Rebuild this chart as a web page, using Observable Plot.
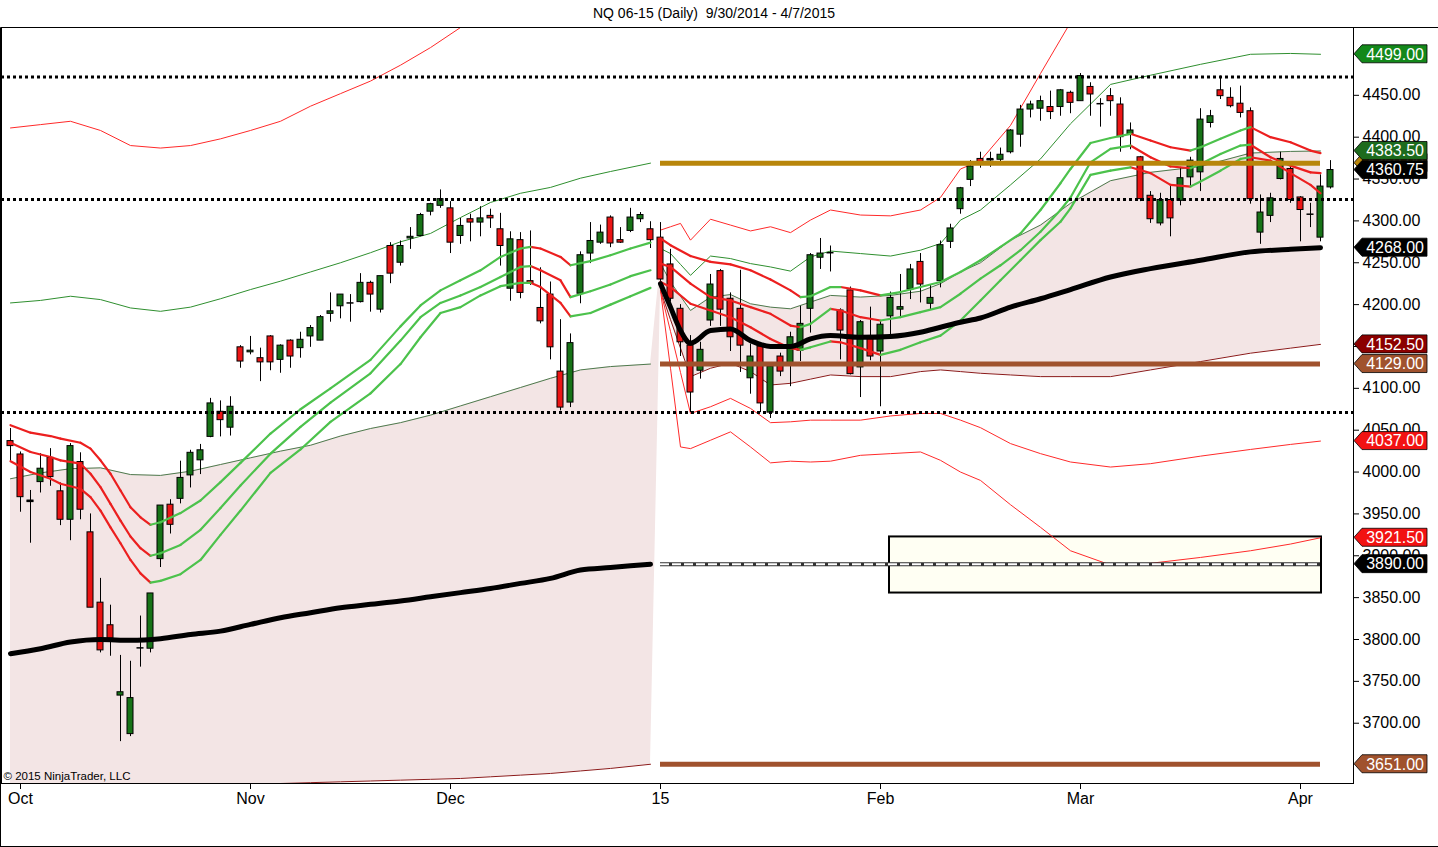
<!DOCTYPE html>
<html><head><meta charset="utf-8">
<script src="https://cdn.jsdelivr.net/npm/d3@7"></script>
<script src="https://cdn.jsdelivr.net/npm/@observablehq/plot@0.6"></script>
<style>
body{margin:0;background:#fff;font-family:"Liberation Sans",Arial,sans-serif;}
#title{height:27px;line-height:27px;text-align:center;font-size:14px;color:#000;width:1438px;padding-right:10px;box-sizing:border-box;white-space:pre}
#chart svg{display:block}
</style></head><body>
<div id="title">NQ 06-15 (Daily)  9/30/2014 - 4/7/2015</div>
<div id="chart"></div>
<script>
// ---------- price bars (bar index 0 = 9/30/2014) ----------
const opens  = [4037,4021,3966,3988,4017,3977,3943,4012,3928,3844,3817,3733,3687,3790,3789,3896,3961,3968,3996,4014,4042,4072,4053,4149,4143,4136,4162,4134,4157,4148,4162,4157,4189,4198,4202,4203,4226,4194,4270,4250,4279,4282,4311,4318,4315,4282,4302,4298,4306,4290,4219,4277,4228,4196,4212,4120,4083,4213,4261,4274,4304,4277,4288,4302,4290,4280,4248,4195,4151,4121,4181,4240,4207,4195,4112,4150,4071,4138,4129,4145,4195,4256,4262,4193,4217,4125,4159,4144,4186,4194,4218,4251,4201,4228,4275,4314,4349,4374,4374,4373,4382,4403,4433,4434,4436,4436,4453,4443,4460,4440,4449,4439,4403,4376,4330,4297,4325,4324,4352,4358,4417,4456,4447,4440,4431,4286,4306,4350,4362,4328,4308,4280,4340];
const highs  = [4052,4024,3978,4022,4028,3987,4034,4023,3950,3873,3841,3781,3774,3828,3855,3960,3967,4013,4026,4033,4088,4085,4090,4151,4162,4148,4163,4152,4158,4167,4175,4187,4214,4212,4212,4237,4228,4234,4274,4276,4292,4309,4321,4337,4323,4303,4308,4317,4314,4309,4287,4286,4288,4244,4227,4182,4165,4263,4298,4295,4306,4292,4315,4310,4299,4298,4266,4200,4163,4155,4236,4242,4214,4241,4153,4154,4130,4142,4167,4198,4261,4279,4270,4195,4221,4181,4197,4181,4215,4236,4248,4261,4224,4276,4296,4340,4372,4382,4382,4387,4409,4438,4443,4449,4455,4457,4455,4476,4465,4446,4458,4447,4417,4377,4335,4333,4341,4364,4376,4434,4432,4473,4459,4461,4435,4331,4333,4382,4370,4329,4321,4355,4372];
const lows   = [4012,3952,3915,3975,3983,3936,3918,3943,3838,3784,3780,3678,3684,3767,3784,3886,3926,3962,3981,3997,4041,4042,4043,4124,4140,4108,4121,4118,4124,4136,4149,4157,4179,4183,4179,4202,4191,4190,4225,4246,4266,4281,4306,4315,4261,4272,4275,4281,4291,4246,4204,4207,4223,4177,4134,4073,4077,4201,4249,4272,4268,4273,4286,4298,4267,4225,4203,4138,4071,4111,4174,4174,4144,4119,4093,4071,4064,4114,4102,4132,4166,4242,4239,4134,4116,4089,4133,4078,4159,4184,4206,4202,4194,4220,4267,4308,4341,4363,4364,4370,4380,4388,4423,4419,4421,4425,4428,4443,4425,4412,4425,4382,4385,4323,4297,4294,4281,4318,4341,4335,4411,4445,4435,4423,4320,4272,4298,4349,4321,4275,4292,4275,4338];
const closes = [4031,3970,3965,4004,3994,3943,4031,3955,3838,3787,3801,3737,3730,3790,3855,3960,3937,3993,4023,4026,4082,4062,4078,4132,4145,4131,4131,4151,4138,4158,4172,4185,4192,4212,4202,4226,4212,4234,4237,4270,4281,4307,4320,4326,4274,4294,4298,4303,4303,4270,4278,4214,4225,4180,4149,4077,4154,4259,4276,4286,4273,4274,4304,4307,4277,4230,4207,4155,4095,4146,4224,4194,4161,4151,4138,4082,4126,4120,4161,4177,4259,4261,4262,4169,4117,4179,4138,4176,4208,4197,4242,4224,4208,4271,4291,4339,4365,4368,4373,4379,4408,4433,4439,4443,4430,4456,4441,4473,4451,4440,4443,4400,4408,4326,4302,4325,4303,4351,4372,4421,4425,4449,4437,4429,4326,4310,4327,4374,4325,4313,4308,4341,4360.75];

// ---------- x axis ----------
const monthBars   = [1, 24, 44, 65, 87, 107, 129];
const monthLabels = ["Oct","Nov","Dec","15","Feb","Mar","Apr"];
const priceTicks  = [3700,3750,3800,3850,3900,3950,4000,4050,4100,4150,4200,4250,4300,4350,4400,4450];

// ---------- band indicator, first series (bars 0-64) ----------
const seg1Idx    = [0,3,6,9,12,15,18,21,24,27,30,33,36,39,42,45,48,51,54,57,60,64];
const seg1Mid    = [3783,3789,3797,3800,3799,3801,3806,3810,3818,3826,3832,3838,3842,3846,3851,3856,3861,3867,3873,3883,3886,3890];
const seg1Upper1 = [3992,3999,4004,4005,3997,3996,4001,4009,4017,4025,4032,4043,4052,4059,4068,4079,4090,4101,4112,4122,4126,4129];
const seg1Upper2 = [4202,4205,4210,4206,4196,4192,4197,4207,4218,4228,4239,4250,4262,4275,4285,4304,4322,4333,4340,4351,4359,4369];
const seg1Upper3 = [4411,4415,4419,4408,4390,4387,4390,4398,4408,4419,4437,4452,4467,4486,4507,4531,4550,null,null,null,null,null];
const seg1Lower1 = [3575,3579,3590,3595,3601,3606,3611,3615,3626,3628,3629,3630,3631,3632,3633,3634,3636,3638,3640,3643,3646,3651];

// ---------- band indicator, second series (bars 65-131) ----------
const seg2Idx    = [65,66,67,68,70,72,74,76,78,80,82,85,88,91,93,95,97,100,103,106,110,114,119,124,128,131];
const seg2Mid    = [4225,4197,4169,4154,4169,4171,4157,4150,4150,4159,4163,4161,4162,4167,4173,4179,4184,4197,4207,4218,4233,4243,4253,4263,4266,4268];
const seg2Upper1 = [4249,4227,4210,4193,4209,4212,4201,4197,4195,4203,4211,4209,4211,4216,4225,4239,4250,4277,4295,4321,4348,4358,4365,4381,4383,4383.5];
const seg2Upper2 = [4267,4261,4248,4235,4258,4255,4249,4245,4240,4257,4264,4261,4258,4265,4273,4301,4313,4343,4374,4416,4463,4474,4487,4499,4500,4499];
const seg2Upper3 = [4289,4293,4297,4277,4302,4295,4288,4293,4286,4301,4313,4307,4306,4313,4328,4362,4372,4414,4476,4537,null,null,null,null,null,null];
const seg2Lower1 = [4217,4182,4148,4114,4124,4130,4120,4104,4106,4111,4116,4114,4114,4120,4122,4120,4118,4116,4114,4114,4114,4122,4132,4142,4148,4152.5];
const seg2Lower2 = [4217,4168,4119,4070,4078,4088,4076,4059,4060,4062,4062,4062,4067,4070,4070,4062,4053,4034,4022,4012,4006,4010,4019,4027,4033,4037];
const seg2Lower3 = [4217,4124,4030,4028,4038,4048,4030,4011,4013,4012,4013,4020,4022,4024,4014,4000,3990,3961,3934,3906,3889,3891,3898,3906,3914,3921.5];

// ---------- moving-average ribbon ----------
const rib1Idx  = [0,2,4,5,7,8,9,10,11,12,13,14,15,17,19,21,23,26,29,32,36,39,41,43,45,47,49,51,52,53,55,56,58,60,62,64];
const rib1Top  = [4056,4047,4043,4040,4035,4028,4014,3998,3978,3958,3946,3937,3940,3951,3966,3988,4011,4046,4075,4100,4134,4174,4199,4217,4229,4241,4257,4267,4269,4267,4257,4247,4252,4259,4267,4274];
const rib1Mid  = [4035,4024,4018,4014,4010,3998,3982,3962,3942,3923,3909,3900,3903,3913,3931,3957,3984,4022,4054,4083,4118,4157,4185,4202,4211,4221,4233,4245,4246,4241,4229,4209,4216,4224,4234,4241];
const rib1Low  = [4013,4000,3992,3986,3980,3970,3954,3934,3915,3895,3879,3868,3870,3878,3895,3925,3954,3999,4027,4060,4094,4129,4161,4190,4197,4211,4222,4226,4226,4221,4202,4186,4190,4200,4210,4220];
const rib2Idx  = [65,66,68,70,72,74,76,78,79,80,82,83,85,87,89,91,93,95,97,99,101,103,105,106,108,110,112,114,116,118,119,121,123,124,126,128,130,131];
const rib2Top  = [4279,4271,4258,4251,4248,4241,4230,4217,4209,4210,4221,4221,4217,4211,4215,4221,4227,4239,4253,4269,4285,4313,4345,4362,4393,4399,4404,4396,4388,4384,4388,4398,4408,4412,4400,4394,4384,4381];
const rib2Mid  = [4249,4245,4225,4209,4205,4197,4189,4175,4173,4177,4195,4193,4185,4181,4185,4191,4197,4213,4231,4247,4265,4287,4313,4328,4370,4386,4390,4376,4365,4363,4368,4380,4390,4391,4376,4366,4358,4357];
const rib2Low  = [4227,4221,4201,4193,4185,4173,4159,4148,4146,4149,4156,4155,4148,4140,4146,4155,4163,4181,4205,4229,4253,4277,4299,4315,4355,4360,4364,4357,4343,4341,4347,4360,4374,4376,4372,4357,4343,4333];

// ---------- drawing objects ----------
const dottedLevels = [4472, 4325.5, 4071];
const goldLevels   = [4369];
const brownLevels  = [4129, 3651];
const dashedLevels = [3890];
const zoneBox = [{start: 87.9, end: 131.1, low: 3855.5, high: 3922.5}];
const priceMarkers = [
  {value: 3651,    kind: "brown"},
  {value: 3890,    kind: "black"},
  {value: 3921.5,  kind: "red"},
  {value: 4037,    kind: "red"},
  {value: 4129,    kind: "brown"},
  {value: 4152.5,  kind: "darkred"},
  {value: 4268,    kind: "black"},
  {value: 4369,    kind: "gold"},
  {value: 4383.5,  kind: "darkgreen"},
  {value: 4360.75, kind: "black"},
  {value: 4499,    kind: "green"}
];
const copyright = "© 2015 NinjaTrader, LLC";

// ---------- styles ----------
const C = {
  shade: "#f3e5e5", up: "#177317", down: "#ec1515",
  ribUp: "#4cc24c", ribDown: "#ec1f1f",
  u1: "#4d7a4d", u2: "#2f8f2f", u3: "#ff2a2a", l1: "#8b1a1a", l2: "#ff2a2a", l3: "#ff2a2a",
  gold: "#b8860b", brown: "#a0522d"
};
const markerFill = {brown: "#a0522d", black: "#000000", red: "#f21212", darkred: "#8b0000", gold: "#b8860b", darkgreen: "#1d6b1d", green: "#13881a"};

// ---------- build tables ----------
const candles = opens.map((o, i) => ({i, o, h: highs[i], l: lows[i], c: closes[i]}));
const rows = (idx, cols) => idx.map((i, k) => {
  const r = {i};
  for (const [name, arr] of Object.entries(cols)) r[name] = arr[k];
  return r;
});
const seg1 = rows(seg1Idx, {mid: seg1Mid, u1: seg1Upper1, u2: seg1Upper2, u3: seg1Upper3, l1: seg1Lower1});
const seg2 = rows(seg2Idx, {mid: seg2Mid, u1: seg2Upper1, u2: seg2Upper2, u3: seg2Upper3, l1: seg2Lower1, l2: seg2Lower2, l3: seg2Lower3});
const areaRows = seg1.concat(seg2);
function links(idx, vals) {
  const out = [];
  for (let k = 0; k < idx.length - 1; k++) out.push({x1: idx[k], x2: idx[k + 1], y1: vals[k], y2: vals[k + 1], up: vals[k + 1] >= vals[k]});
  return out;
}
const ribbon = [
  ...links(rib1Idx, rib1Top), ...links(rib1Idx, rib1Mid), ...links(rib1Idx, rib1Low),
  ...links(rib2Idx, rib2Top), ...links(rib2Idx, rib2Mid), ...links(rib2Idx, rib2Low)
];
const seg2Start = seg2Idx[0], seg2End = seg2Idx[seg2Idx.length - 1];
const bodyHalf = 0.3;

const thin = (data, y, stroke) => Plot.line(data, {x: "i", y, stroke, strokeWidth: 1, clip: true});

const svg = Plot.plot({
  width: 1438, height: 820,
  marginTop: 0, marginBottom: 64, marginLeft: 1, marginRight: 85,
  style: {fontFamily: "'Liberation Sans', Arial, sans-serif", fontSize: "16px", background: "#fff", overflow: "visible"},
  x: {type: "linear", domain: [-0.9, 134.3], axis: null},
  y: {type: "linear", domain: [3628, 4531], axis: null},
  marks: [
    Plot.areaY(areaRows, {x: "i", y1: "l1", y2: "u1", fill: C.shade, clip: true}),
    Plot.rect(zoneBox, {x1: "start", x2: "end", y1: "low", y2: "high", fill: "#fffff3", stroke: "#000", strokeWidth: 2}),
    thin(seg1, "u3", C.u3), thin(seg1, "u2", C.u2), thin(seg1, "u1", C.u1), thin(seg1, "l1", C.l1),
    thin(seg2, "u3", C.u3), thin(seg2, "u2", C.u2), thin(seg2, "u1", C.u1),
    thin(seg2, "l1", C.l1), thin(seg2, "l2", C.l2), thin(seg2, "l3", C.l3),
    Plot.ruleY(dashedLevels, {y: d => d, x1: seg2Start, x2: seg2End, stroke: "#333", strokeWidth: 4}),
    Plot.ruleY(dashedLevels, {y: d => d, x1: seg2Start, x2: seg2End, stroke: "#fff", strokeWidth: 2, strokeDasharray: "9,3"}),
    Plot.ruleX(candles, {x: "i", y1: "l", y2: "h", stroke: "#000", strokeWidth: 1}),
    Plot.rect(candles.filter(d => d.c > d.o), {x1: d => d.i - bodyHalf, x2: d => d.i + bodyHalf, y1: "o", y2: "c", fill: C.up, stroke: "#000", strokeWidth: 1}),
    Plot.rect(candles.filter(d => d.c < d.o), {x1: d => d.i - bodyHalf, x2: d => d.i + bodyHalf, y1: "o", y2: "c", fill: C.down, stroke: "#000", strokeWidth: 1}),
    Plot.ruleY(candles.filter(d => Math.abs(d.c - d.o) < 1.5), {y: "c", x1: d => d.i - bodyHalf - 0.05, x2: d => d.i + bodyHalf + 0.05, stroke: "#000", strokeWidth: 1.5}),
    Plot.link(ribbon.filter(d => !d.up), {x1: "x1", x2: "x2", y1: "y1", y2: "y2", stroke: C.ribDown, strokeWidth: 2.2, strokeLinecap: "round"}),
    Plot.link(ribbon.filter(d => d.up), {x1: "x1", x2: "x2", y1: "y1", y2: "y2", stroke: C.ribUp, strokeWidth: 2.2, strokeLinecap: "round"}),
    Plot.line(seg1, {x: "i", y: "mid", stroke: "#000", strokeWidth: 5, curve: "monotone-x"}),
    Plot.line(seg2, {x: "i", y: "mid", stroke: "#000", strokeWidth: 5, curve: "monotone-x"}),
    Plot.ruleY(goldLevels, {y: d => d, x1: seg2Start, x2: seg2End, stroke: C.gold, strokeWidth: 5}),
    Plot.ruleY(brownLevels, {y: d => d, x1: seg2Start, x2: seg2End, stroke: C.brown, strokeWidth: 5}),
    Plot.ruleY(dottedLevels, {y: d => d, stroke: "#000", strokeWidth: 3, strokeDasharray: "3,3"}),
    Plot.text([copyright], {frameAnchor: "bottom-left", text: d => d, dx: 2, dy: -4, fontSize: 11.5, textAnchor: "start", fill: "#000"}),
    Plot.axisY({anchor: "right", ticks: priceTicks, tickFormat: d => d.toFixed(2), tickSize: 5, tickPadding: 4, fontSize: 16, label: null}),
    Plot.axisX({ticks: monthBars, tickFormat: d => monthLabels[monthBars.indexOf(d)], tickSize: 6, tickPadding: 3, fontSize: 16, label: null}),
    Plot.frame({stroke: "#000", strokeWidth: 1})
  ]
});

// price markers on the right axis, positioned through the plot's y scale
const yScale = svg.scale("y");
const g = d3.select(svg).append("g");
const axisX = 1353;
for (const m of priceMarkers) {
  const cy = yScale.apply(m.value);
  const tip = axisX + 1, left = axisX + 9, right = axisX + 74, hh = 9;
  g.append("polygon")
    .attr("points", `${tip},${cy} ${left},${cy - hh} ${right},${cy - hh} ${right},${cy + hh} ${left},${cy + hh}`)
    .attr("fill", markerFill[m.kind]).attr("stroke", "#000").attr("stroke-width", 0.8);
  g.append("text").attr("x", right - 3).attr("y", cy).attr("dy", "0.36em")
    .attr("text-anchor", "end").attr("fill", "#fff").attr("font-size", 16)
    .text(m.value.toFixed(2));
}
// chart window border
const W = 1438, H = 820;
g.append("path").attr("d", `M0.5,${H - 0.5} L0.5,0.5 L${W},0.5 M0,${H - 0.5} L${W},${H - 0.5}`)
  .attr("fill", "none").attr("stroke", "#000");

document.getElementById("chart").appendChild(svg);
</script>
</body></html>
